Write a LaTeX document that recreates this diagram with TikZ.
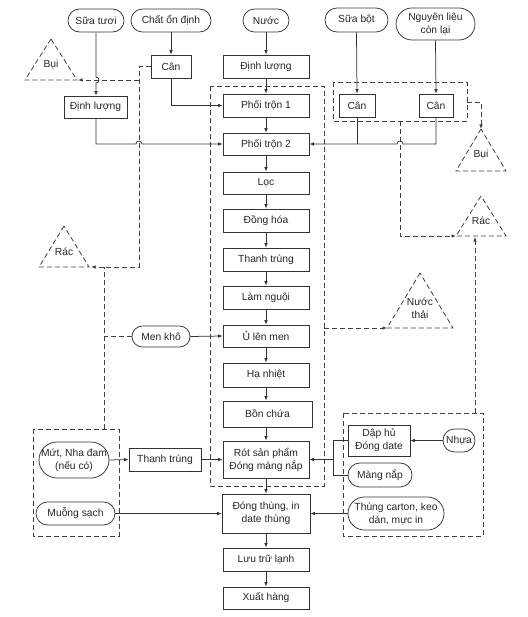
\documentclass[tikz,border=0pt]{standalone}
\usepackage{fontspec}
\setmainfont{Liberation Sans}
\usetikzlibrary{arrows.meta}
\begin{document}
\begin{tikzpicture}[x=1pt,y=-1pt,
  font=\fontsize{10.3}{13}\selectfont,
  every node/.style={text=black!85},
  ln/.style={draw=black!80,line width=0.75pt},
  box/.style={ln,rectangle,inner sep=0pt,align=center},
  oval/.style={ln,rectangle,inner sep=0pt,align=center},
  dsh/.style={draw=black!75,line width=0.8pt,dash pattern=on 5pt off 3pt},
  arr/.style={-{Latex[length=4.5pt,width=3.6pt]}},
  lbl/.style={inner sep=0pt,align=center}
]
\useasboundingbox (0,0) rectangle (527,617);

% ---------- top ovals ----------
\node[oval,minimum width=56pt,minimum height=23pt,rounded corners=11.5pt] (suatuoi) at (96,20.5) {Sữa tươi};
\node[oval,minimum width=80pt,minimum height=23pt,rounded corners=11.5pt] (chat) at (171,20.5) {Chất ổn định};
\node[oval,minimum width=46pt,minimum height=23pt,rounded corners=11.5pt] (nuoc) at (266,20.5) {Nước};
\node[oval,minimum width=63pt,minimum height=24pt,rounded corners=12pt] (suabot) at (356.5,20) {Sữa bột};
\node[oval,minimum width=79pt,minimum height=32pt,rounded corners=16pt] (nglieu) at (435.5,24) {Nguyên liệu\\còn lại};

% ---------- main column ----------
\node[box,minimum width=40pt,minimum height=23pt] (can1) at (171,66.5) {Cân};
\node[box,minimum width=86pt,minimum height=23pt] (dlnuoc) at (266,66.5) {Định lượng};
\node[box,minimum width=63pt,minimum height=22pt] (dlsua) at (95.5,107) {Định lượng};
\node[box,minimum width=86pt,minimum height=23pt] (pt1) at (266,105.5) {Phối trộn 1};
\node[box,minimum width=86pt,minimum height=22pt] (pt2) at (266,144) {Phối trộn 2};
\node[box,minimum width=86pt,minimum height=22pt] (loc) at (266,183) {Lọc};
\node[box,minimum width=86pt,minimum height=23pt] (donghoa) at (266,220.5) {Đồng hóa};
\node[box,minimum width=86pt,minimum height=23pt] (thanhtrung) at (266,259.5) {Thanh trùng};
\node[box,minimum width=86pt,minimum height=23pt] (lamnguoi) at (266,297.5) {Làm nguội};
\node[box,minimum width=86pt,minimum height=22pt] (ulenmen) at (266,336) {Ủ lên men};
\node[box,minimum width=86pt,minimum height=24pt] (hanhiet) at (266,375) {Hạ nhiệt};
\node[box,minimum width=89pt,minimum height=26pt,text depth=-6pt] (bonchua) at (267.5,414) {Bồn chứa};
\node[box,minimum width=86pt,minimum height=37pt] (rot) at (266,459.5) {Rót sản phẩm\\Đóng màng nắp};
\node[box,minimum width=88pt,minimum height=39pt] (dongthung) at (266,513.5) {Đóng thùng, in\\date thùng};
\node[box,minimum width=86pt,minimum height=23pt] (luutru) at (266,559.5) {Lưu trữ lạnh};
\node[box,minimum width=86pt,minimum height=22pt] (xuathang) at (266,598) {Xuất hàng};

% ---------- right ----------
\node[box,minimum width=36pt,minimum height=23pt] (can2) at (357,105.5) {Cân};
\node[box,minimum width=34pt,minimum height=23pt] (can3) at (436,105.5) {Cân};
\node[box,minimum width=62pt,minimum height=31pt] (daphu) at (379,440.5) {Dập hủ\\Đóng date};
\node[oval,minimum width=32pt,minimum height=23pt,rounded corners=11.5pt] (nhua) at (459,440.5) {Nhựa};
\node[oval,minimum width=64pt,minimum height=24pt,rounded corners=12pt] (mangnap) at (380,475) {Màng nắp};
\node[oval,minimum width=96pt,minimum height=33pt,rounded corners=16.5pt] (thung) at (396,513.5) {Thùng carton, keo\\dán, mực in};

% ---------- left ----------
\node[oval,minimum width=58pt,minimum height=21pt,rounded corners=10.5pt] (menkho) at (161,336.5) {Men khô};
\node[oval,minimum width=70pt,minimum height=36pt,rounded corners=18pt] (mut) at (74,460) {Mứt, Nha đam\\(nếu có)};
\node[box,minimum width=72pt,minimum height=23pt] (tt2) at (165,459.5) {Thanh trùng};
\node[oval,minimum width=79pt,minimum height=23pt,rounded corners=11.5pt] (muong) at (75.5,513.5) {Muỗng sạch};

% ---------- triangles (waste) ----------
\coordinate (buiLa) at (51,39); \coordinate (buiLl) at (25,80); \coordinate (buiLr) at (77,80);
\coordinate (racLa) at (64,226); \coordinate (racLl) at (39,267); \coordinate (racLr) at (89,267);
\coordinate (buiRa) at (481,129); \coordinate (buiRl) at (456,171); \coordinate (buiRr) at (506,171);
\coordinate (racRa) at (481,196); \coordinate (racRl) at (456,236); \coordinate (racRr) at (506,236);
\coordinate (ntA) at (420,273); \coordinate (ntL) at (387,328); \coordinate (ntR) at (453,328);
\draw[dsh] (buiLa) -- (buiLl) -- (buiLr) -- cycle;
\draw[dsh] (racLa) -- (racLl) -- (racLr) -- cycle;
\draw[dsh] (buiRa) -- (buiRl) -- (buiRr) -- cycle;
\draw[dsh] (racRa) -- (racRl) -- (racRr) -- cycle;
\draw[dsh] (ntA) -- (ntL) -- (ntR) -- cycle;
\node[lbl] (buiL) at (51,65) {Bụi};
\node[lbl] (racL) at (64,252) {Rác};
\node[lbl] (buiR) at (481,155) {Bụi};
\node[lbl] (racR) at (481,221) {Rác};
\node[lbl] (nuocthai) at (420,308) {Nước\\thải};

% ---------- dashed groups ----------
\draw[dsh] (210,86) rectangle (324,486);
\draw[dsh] (333,82) rectangle (467,121);
\draw[dsh] (33,429) rectangle (119,536);
\draw[dsh] (343,413) rectangle (483,536);

% ---------- dashed waste flows ----------
\coordinate (c1) at (139,66.5);
\coordinate (c2) at (139,267);
\coordinate (c3) at (104,267);
\coordinate (c4) at (104,429);
\draw[dsh] (can1.west) -- (c1) -- (c2) -- (c3);
\draw[dsh,arr] (c3) -- ([xshift=2pt]racLr);
\draw[dsh,arr] (139,80) -- ([xshift=1pt]buiLr);
\draw[dsh] (c4) -- (c3);
\draw[dsh] (menkho.west) -- (104,336.5);
\draw[dsh,arr] (467,102) -- (481,102) -- (buiRa);
\draw[dsh,arr] (400,121) -- (400,236) -- (racRl);
\draw[dsh,arr] (475,413) -- (475,237);
\draw[dsh,arr] (324,328) -- (ntL);

% ---------- solid flows ----------
\draw[ln,arr] (suatuoi.south) -- (96,77) .. controls (100,77) and (100,83) .. (96,83) -- (dlsua.north -| 96,0);
\draw[ln,arr] (chat.south) -- (can1.north);
\draw[ln,arr] (nuoc.south) -- (dlnuoc.north);
\draw[ln,arr] (dlnuoc.south) -- (pt1.north);
\draw[ln,arr] (can1.south) |- (pt1.west);
\draw[ln,arr] (dlsua.south -| 96,0) -- (96,144) -- (136,144) .. controls (136,140) and (142,140) .. (142,144) -- (pt2.west);
\draw[ln,arr] (pt1) -- (pt2);
\draw[ln,arr] (pt2) -- (loc);
\draw[ln,arr] (loc) -- (donghoa);
\draw[ln,arr] (donghoa) -- (thanhtrung);
\draw[ln,arr] (thanhtrung) -- (lamnguoi);
\draw[ln,arr] (lamnguoi) -- (ulenmen);
\draw[ln,arr] (ulenmen) -- (hanhiet);
\draw[ln,arr] (hanhiet.south) -- (hanhiet.south |- bonchua.north);
\draw[ln,arr] (bonchua.south -| rot.north) -- (rot.north);
\draw[ln,arr] (rot) -- (dongthung);
\draw[ln,arr] (dongthung) -- (luutru);
\draw[ln,arr] (luutru) -- (xuathang);
\draw[ln,arr] (suabot.south) -- (can2.north);
\draw[ln,arr] (nglieu.south) -- (can3.north);
\draw[ln,arr] (can3.south) -- (436,144) -- (403,144) .. controls (403,140) and (397,140) .. (397,144) -- (pt2.east);
\draw[ln] (can2.south) -- (357,144);
\draw[ln,arr] (menkho.east) -- (ulenmen.west);
\draw[ln,arr] (mut.east) -- (tt2.west);
\draw[ln,arr] (tt2.east) -- (rot.west);
\draw[ln,arr] (muong.east) -- (dongthung.west);
\draw[ln,arr] (thung.west) -- (dongthung.east);
\draw[ln,arr] (nhua.west) -- (daphu.east);
\draw[ln] (daphu.west) -- (333,440.5) -- (333,475) -- (mangnap.west);
\draw[ln,arr] (333,459.5) -- (rot.east);
\end{tikzpicture}
\end{document}
